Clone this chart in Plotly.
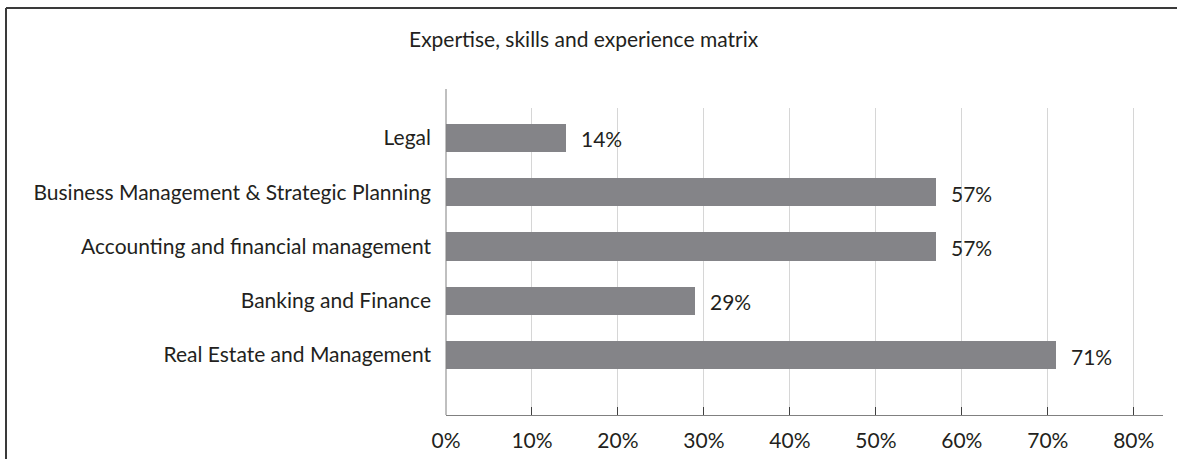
import plotly.graph_objects as go

# Data
categories = [
    "Real Estate and Management",
    "Banking and Finance",
    "Accounting and financial management",
    "Business Management & Strategic Planning",
    "Legal",
]
shares = [71, 29, 57, 57, 14]
tick_values = [0, 10, 20, 30, 40, 50, 60, 70, 80]
tick_labels = ["0%", "10%", "20%", "30%", "40%", "50%", "60%", "70%", "80%"]
title_text = "Expertise, skills and experience matrix"

W, H = 1177, 459
L, R, T, B = 446, 14, 108, 44
FONT = "Lato"
TEXT = "#231f20"
FS = 21

def px_x(px):
    return (px - L) / (W - L - R)

def px_y(py):
    return (H - B - py) / (H - T - B)

fig = go.Figure()
fig.add_trace(go.Bar(
    x=shares,
    y=list(range(len(categories))),
    orientation="h",
    width=0.52,
    marker=dict(color="#848488", line=dict(width=0)),
    hoverinfo="skip",
))

annotations = []
for i, v in enumerate(shares):
    annotations.append(dict(
        x=v, y=i, xref="x", yref="y", text=f"{v}%",
        showarrow=False, xanchor="left", xshift=13, yshift=-1,
        font=dict(family=FONT, size=FS, color=TEXT),
    ))
annotations.append(dict(
    x=px_x(584), y=px_y(39), xref="paper", yref="paper", text=title_text,
    showarrow=False, xanchor="center", yanchor="middle",
    font=dict(family=FONT, size=FS, color=TEXT),
))

shapes = [
    # frame: top and left edges
    dict(type="line", xref="paper", yref="paper",
         x0=px_x(6), x1=px_x(1178), y0=px_y(8), y1=px_y(8),
         line=dict(color="#3a3a3a", width=2)),
    dict(type="line", xref="paper", yref="paper",
         x0=px_x(6), x1=px_x(6), y0=px_y(8), y1=px_y(462),
         line=dict(color="#3a3a3a", width=2)),
    # vertical axis line
    dict(type="line", xref="paper", yref="paper",
         x0=0, x1=0, y0=0, y1=px_y(89),
         line=dict(color="#808080", width=1)),
]

fig.update_layout(
    width=W, height=H,
    margin=dict(l=L, r=R, t=T, b=B),
    plot_bgcolor="white", paper_bgcolor="white",
    showlegend=False,
    bargap=0,
    annotations=annotations,
    shapes=shapes,
    font=dict(family=FONT, color=TEXT),
    xaxis=dict(
        range=[0, 83.4],
        tickmode="array", tickvals=tick_values, ticktext=tick_labels,
        showgrid=True, gridcolor="#d6d6d6", gridwidth=1,
        zeroline=False,
        showline=True, linecolor="#808080", linewidth=1,
        ticks="inside", ticklen=8, tickcolor="#404040", tickwidth=1,
        tickfont=dict(family=FONT, size=FS, color=TEXT),
        ticklabelstandoff=7,
        automargin=False,
        fixedrange=True,
    ),
    yaxis=dict(
        range=[-1.105, 4.55],
        tickmode="array", tickvals=list(range(len(categories))), ticktext=categories,
        showgrid=False, zeroline=False, showline=False,
        ticks="",
        tickfont=dict(family=FONT, size=FS, color=TEXT),
        ticklabelstandoff=14,
        automargin=False,
        fixedrange=True,
    ),
)

fig.write_html("out.html")
